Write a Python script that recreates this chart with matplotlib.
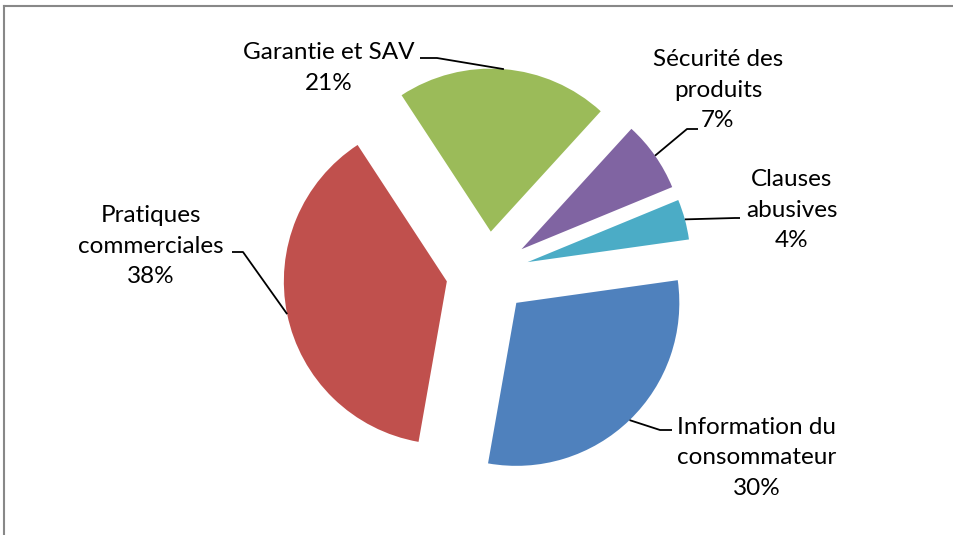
import numpy as np
import matplotlib.pyplot as plt
from matplotlib.lines import Line2D

# Données du graphique
categories = ["Information du\nconsommateur", "Pratiques\ncommerciales",
              "Garantie et SAV", "Sécurité des\nproduits", "Clauses\nabusives"]
valeurs = [30, 38, 21, 7, 4]
couleurs = ["#4F81BD", "#C0504D", "#9BBB59", "#8064A2", "#4BACC6"]

W, H = 954, 535

plt.rcParams['font.family'] = ['Lato', 'DejaVu Sans']

fig = plt.figure(figsize=(W / 100, H / 100), dpi=100)
ax = fig.add_axes([0, 0, 1, 1])

# Camembert éclaté, coordonnées en pixels (y vers le haut)
wedges, _ = ax.pie(valeurs, colors=couleurs, startangle=8, counterclock=False,
                   radius=163, center=(487.5, H - 273),
                   explode=[41.5] * len(valeurs), frame=True)
ax.set_xlim(0, W)
ax.set_ylim(0, H)
ax.set_aspect('equal')
ax.axis('off')

# Position des étiquettes (centre du bloc) et des lignes de rappel (pixels image)
pos_etiq = [(757, 458), (151, 246), (329, 68), (718, 90), (792, 210)]
rappels = [[(672, 430), (660, 430)],
           [(232, 252), (243, 252)],
           [(420, 58), (437, 58)],
           [(698, 129), (687, 129)],
           [(740, 218), (735, 218)]]

for w, cat, v, (lx, ly), pts in zip(wedges, categories, valeurs, pos_etiq, rappels):
    ax.text(lx, H - ly, f"{cat}\n{v}%", ha='center', va='center',
            multialignment='center', fontsize=17.5, linespacing=1.55, color='black')
    # point milieu de l'arc du secteur
    a = np.deg2rad((w.theta1 + w.theta2) / 2)
    mx = w.center[0] + w.r * np.cos(a)
    my = w.center[1] + w.r * np.sin(a)
    xs = [p[0] for p in pts] + [mx]
    ys = [H - p[1] for p in pts] + [my]
    ax.plot(xs, ys, color='black', lw=1.3, solid_capstyle='butt')

# Bordure de la zone du graphique
fig.add_artist(Line2D([4.5 / W, 4.5 / W], [0, 1 - 6 / H], color='#888888', lw=1.5,
                      transform=fig.transFigure))
fig.add_artist(Line2D([4.5 / W, 1], [1 - 6 / H, 1 - 6 / H], color='#888888', lw=1.5,
                      transform=fig.transFigure))

fig.savefig("out.png", dpi=100)
